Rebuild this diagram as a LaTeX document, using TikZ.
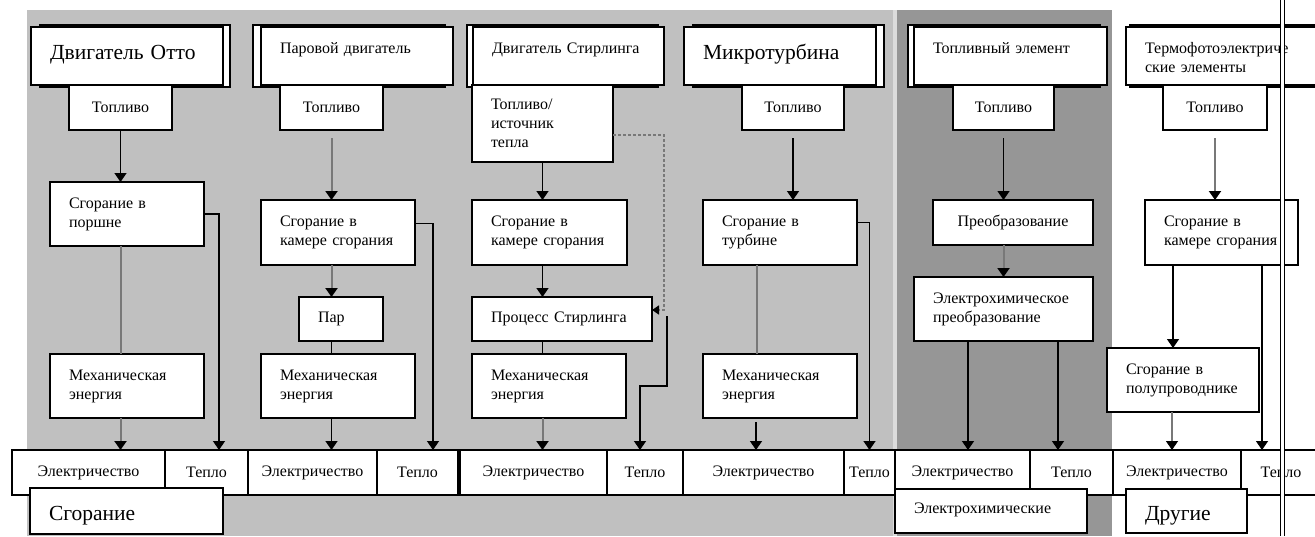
\documentclass[tikz,border=0pt]{standalone}
\usepackage{fontspec}
\setmainfont{Liberation Serif}
\usetikzlibrary{arrows.meta, positioning, calc}

\definecolor{colBg}{RGB}{192, 192, 192}
\definecolor{colBgDark}{RGB}{150, 150, 150}
\definecolor{colStrip}{RGB}{220, 220, 220}
\definecolor{colLine}{RGB}{120, 120, 120}

\begin{document}
\begin{tikzpicture}[x=1pt, y=-1pt,
    box/.style={draw, fill=white, line width=1.4pt, anchor=north west, outer sep=0pt,
        font=\fontsize{16}{19}\selectfont},
    lbox/.style={box, align=left, inner xsep=19pt, inner ysep=0pt},
    cbox/.style={box, align=center, inner sep=0pt},
    hdr/.style={lbox, text height=26pt, text depth=32pt},
    bighdr/.style={lbox, font=\fontsize{21.5}{24}\selectfont, text height=32pt, text depth=26pt},
    shade/.style={draw, fill=white, line width=1.1pt},
    arr/.style={line width=1.4pt, -{Triangle[width=12pt, length=9pt]}},
    garr/.style={colLine, line width=2pt, -{Triangle[width=12pt, length=9pt, color=black, fill=black]}},
    gline/.style={colLine, line width=2pt},
    bline/.style={line width=1.4pt},
    dsh/.style={colLine, line width=1.4pt, densely dashed, -{Triangle[width=9pt, length=7pt, color=black, fill=black]}}
]
    \path[use as bounding box, clip] (0,0) rectangle (1315,536);

    % --- Background panels ---
    \fill[colBg] (27,10) rectangle (893,536);
    \fill[colStrip] (893,10) rectangle (897,536);
    \fill[colBgDark] (897,10) rectangle (1112,536);

    % --- Headers (with back frame) ---
    \draw[shade] (40,25) rectangle (230,87);
    \draw[shade] (253,25) rectangle (445,87);
    \draw[shade] (467,25) rectangle (658,87);
    \draw[shade] (693,25) rectangle (884,87);
    \draw[shade] (908,25) rectangle (1100,87);
    \draw[shade] (1130,25) rectangle (1340,87);

    \node[bighdr, text width=154pt] (hOtto) at (31,27) {Двигатель Отто};
    \node[hdr, text width=154pt] (hPar) at (261,27) {Паровой двигатель};
    \node[hdr, text width=153pt] (hStir) at (473,27) {Двигатель Стирлинга};
    \node[bighdr, text width=154pt] (hMicro) at (684,27) {Микротурбина};
    \node[hdr, text width=155pt] (hFuel) at (914,27) {Топливный элемент};
    \node[hdr, text width=170pt] (hThermo) at (1126,27) {Термофотоэлектриче\\ские элементы};

    % --- Column 1: Otto ---
    \node[cbox, minimum width=103pt, minimum height=45pt] (f1) at (69,85) {Топливо};
    \node[lbox, text width=116pt, minimum height=64pt] (c1) at (50,182) {Сгорание в\\поршне};
    \node[lbox, text width=116pt, minimum height=64pt] (m1) at (50,354) {Механическая\\энергия};

    \draw[arr] (f1.south) -- (f1.south |- c1.north);
    \draw[gline] (c1.south -| f1.south) -- (m1.north -| f1.south);

    % --- Column 2: steam ---
    \node[cbox, minimum width=103pt, minimum height=45pt] (f2) at (280,85) {Топливо};
    \node[lbox, text width=116pt, minimum height=65pt] (c2) at (261,200) {Сгорание в\\камере сгорания};
    \node[lbox, text width=46pt, minimum height=44pt] (p2) at (299,297) {Пар};
    \node[lbox, text width=116pt, minimum height=64pt] (m2) at (261,354) {Механическая\\энергия};

    \draw[garr] ([yshift=-8pt]f2.south) -- (f2.south |- c2.north);
    \draw[garr] (c2.south -| f2.south) -- (f2.south |- p2.north);
    \draw[bline] (p2.south -| f2.south) -- (m2.north -| f2.south);

    % --- Column 3: Stirling ---
    \node[lbox, text width=103pt, minimum height=77pt] (f3) at (472,85) {Топливо/\\источник\\тепла};
    \node[lbox, text width=117pt, minimum height=65pt] (c3) at (472,200) {Сгорание в\\камере сгорания};
    \node[lbox, text width=142pt, minimum height=44pt] (p3) at (472,297) {Процесс Стирлинга};
    \node[lbox, text width=116pt, minimum height=64pt] (m3) at (472,354) {Механическая\\энергия};
    \coordinate (q3) at (667,316);

    \draw[arr] (f3.south) -- (f3.south |- c3.north);
    \draw[arr] (c3.south -| f3.south) -- (p3.north -| f3.south);
    \draw[bline] (p3.south -| f3.south) -- (m3.north -| f3.south);
    \draw[dsh] ([yshift=-11.5pt]f3.east) -- ++(51,0) |- ([yshift=9pt]p3.east);

    % --- Column 4: microturbine ---
    \node[cbox, minimum width=102pt, minimum height=45pt] (f4) at (742,85) {Топливо};
    \node[lbox, text width=116pt, minimum height=65pt] (c4) at (703,200) {Сгорание в\\турбине};
    \node[lbox, text width=116pt, minimum height=64pt] (m4) at (703,354) {Механическая\\энергия};

    \draw[arr] ([yshift=-8pt]f4.south) -- (f4.south |- c4.north);
    \draw[gline] ([xshift=-23pt]c4.south) -- ([xshift=-23pt]c4.south |- m4.north);

    % --- Column 5: fuel cell ---
    \node[cbox, minimum width=101pt, minimum height=45pt] (f5) at (953,85) {Топливо};
    \node[cbox, minimum width=160pt, minimum height=45pt] (c5) at (933,200) {Преобразование};
    \node[lbox, text width=141pt, minimum height=64pt] (e5) at (914,277) {Электрохимическое\\преобразование};

    \draw[arr] ([yshift=-8pt]f5.south) -- (f5.south |- c5.north);
    \draw[garr] (c5.south -| f5.south) -- (e5.north -| f5.south);

    % --- Column 6: thermophotovoltaic ---
    \node[cbox, minimum width=104pt, minimum height=45pt] (f6) at (1163,85) {Топливо};
    \node[lbox, text width=115pt, minimum height=65pt] (c6) at (1145,200) {Сгорание в\\камере сгорания};
    \node[lbox, text width=114pt, minimum height=64pt] (s6) at (1107,348) {Сгорание в\\полупроводнике};

    \draw[garr] ([yshift=-8pt]f6.south) -- (f6.south |- c6.north);
    \draw[arr] ([xshift=-48.5pt]c6.south) -- ([xshift=-48.5pt]c6.south |- s6.north);

    % --- Bottom strip: electricity / heat ---
    \node[cbox, minimum width=153pt, minimum height=45pt] (el1) at (12,450) {Электричество};
    \node[cbox, minimum width=83pt, minimum height=45pt] (t1) at (165,450) {Тепло};
    \node[cbox, minimum width=129pt, minimum height=45pt] (el2) at (248,450) {Электричество};
    \node[cbox, minimum width=81pt, minimum height=45pt] (t2) at (377,450) {Тепло};
    \node[cbox, minimum width=147pt, minimum height=45pt] (el3) at (460,450) {Электричество};
    \node[cbox, minimum width=76pt, minimum height=45pt] (t3) at (607,450) {Тепло};
    \node[cbox, minimum width=161pt, minimum height=45pt] (el4) at (683,450) {Электричество};
    \node[cbox, minimum width=51pt, minimum height=45pt] (t4) at (844,450) {Тепло};
    \node[cbox, minimum width=135pt, minimum height=45pt] (el5) at (895,450) {Электричество};
    \node[cbox, minimum width=83pt, minimum height=45pt] (t5) at (1030,450) {Тепло};
    \node[cbox, minimum width=128pt, minimum height=45pt] (el6) at (1113,450) {Электричество};
    \node[cbox, minimum width=80pt, minimum height=45pt] (t6) at (1241,450) {Тепло};
    \draw[line width=1.4pt] (t6.south east) -- ++(20,0);

    % Connectors into the strip
    \draw[garr] (m1.south -| f1.south) -- (el1.north -| f1.south);
    \draw[arr] (c1.east) -| ([xshift=12.5pt]t1.north);
    \draw[arr] (m2.south -| f2.south) -- (el2.north -| f2.south);
    \draw[arr] ([yshift=9pt]c2.east) -| ([xshift=15.5pt]t2.north);
    \draw[garr] (m3.south -| f3.south) -- (el3.north -| f3.south);
    \draw[arr] (q3) -- ++(0,70) -| ([xshift=-5pt]t3.north);
    \draw[arr] ([xshift=-24pt,yshift=-4pt]m4.south) -- ([xshift=-24pt]m4.south |- el4.north);
    \draw[arr] ([yshift=10pt]c4.east) -| (t4.north);
    \draw[arr] ([xshift=-35.5pt]e5.south) -- ([xshift=-35.5pt]e5.south |- el5.north);
    \draw[arr] ([xshift=54.5pt]e5.south) -- ([xshift=54.5pt]e5.south |- t5.north);
    \draw[arr] ([xshift=40.5pt]c6.south) -- ([xshift=40.5pt]c6.south |- t6.north);
    \draw[garr, line width=1.3pt] ([xshift=-11pt]s6.south) -- ([xshift=-11pt]s6.south |- el6.north);

    % --- Group labels ---
    \node[lbox, font=\fontsize{21.5}{24}\selectfont, text width=155pt, text height=32pt, text depth=14pt] (gComb) at (30,488) {Сгорание};
    \node[lbox, text width=154pt, text height=24pt, text depth=20pt] (gChem) at (895,489) {Электрохимические};
    \node[lbox, font=\fontsize{21.5}{24}\selectfont, text width=83pt, text height=31pt, text depth=13pt] (gOther) at (1126,489) {Другие};

    % --- Double rule on the right ---
    \fill[white] (1280,0) rectangle (1285,536);
    \draw[line width=1.3pt] (1280.7,0) -- (1280.7,536) (1284.3,0) -- (1284.3,536);
\end{tikzpicture}
\end{document}
